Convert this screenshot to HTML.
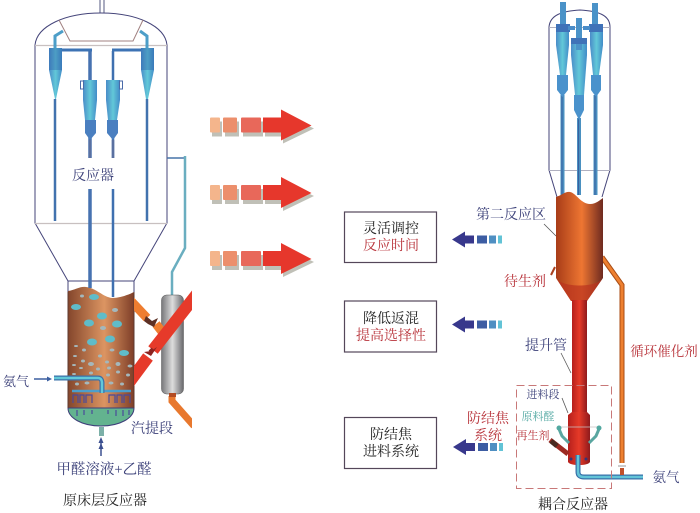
<!DOCTYPE html>
<html><head><meta charset="utf-8"><style>
html,body{margin:0;padding:0;background:#fff}
svg{display:block}
text{font-family:"Liberation Serif","Noto Serif CJK SC",serif;font-size:13px;text-anchor:middle}
.b{fill:#3a3f78}.r{fill:#b8333a}.k{fill:#222}
</style></head><body>
<svg width="700" height="513" viewBox="0 0 700 513" xmlns="http://www.w3.org/2000/svg">
<defs>
<linearGradient id="br" x1="0" x2="1" y1="0" y2="0"><stop offset="0" stop-color="#84462c"/><stop offset=".55" stop-color="#dc9562"/><stop offset="1" stop-color="#7e3e28"/></linearGradient>
<linearGradient id="or" x1="0" x2="1" y1="0" y2="0"><stop offset="0" stop-color="#a83c18"/><stop offset=".55" stop-color="#ee7632"/><stop offset="1" stop-color="#6e2a20"/></linearGradient>
<linearGradient id="rd" x1="0" x2="1" y1="0" y2="0"><stop offset="0" stop-color="#b51f1c"/><stop offset=".5" stop-color="#e63a28"/><stop offset="1" stop-color="#8e1a1c"/></linearGradient>
<linearGradient id="gy" x1="0" x2="1" y1="0" y2="0"><stop offset="0" stop-color="#77777a"/><stop offset=".5" stop-color="#ddd"/><stop offset="1" stop-color="#68686c"/></linearGradient>
<linearGradient id="cy" x1="0" x2="1" y1="0" y2="0"><stop offset="0" stop-color="#4a8cc8"/><stop offset=".5" stop-color="#62c8d8"/><stop offset="1" stop-color="#428cc8"/></linearGradient>
<clipPath id="cl"><rect x="134" y="280" width="58" height="150"/></clipPath>
<g id="ra">
<path d="M0 -7h10v15h-10zM13 -7h14v15h-14zM31 -7h20v15h-20zM53 -7h18v-8l31 15-31 15v-7h-18z" fill="#8c8c7c" opacity=".55" transform="translate(2,3)"/>
<rect x="0" y="-8" width="10" height="15" rx="1" fill="#f4b58c"/><rect x="13" y="-8" width="14" height="15" rx="1" fill="#ec8f6c"/><rect x="31" y="-8" width="20" height="15" rx="1" fill="#e8685a"/>
<path d="M53 -8h18v-8l30.500 16-30.500 15v-8h-18z" fill="#e6372c"/>
</g>
<g id="ba">
<path d="M0 0l13 -8v4h9v8h-9v4z" fill="#38388c"/>
<rect x="25" y="-4" width="10" height="8" fill="#3d5da3"/><rect x="37" y="-4" width="7" height="8" fill="#4f8fc2"/><rect x="46" y="-4" width="4" height="8" fill="#62c3d6"/>
</g>
</defs>
<rect width="700" height="513" fill="#fff"/>

<!-- Left vessel -->
<path d="M100 0v13M104 0v13" stroke="#555a80" stroke-width="1" fill="none"/>
<path d="M35 45C37 26 65 13 101 13C137 13 165 26 167 45V223L134 281H68L35 223Z" fill="none" stroke="#45457a" stroke-width="1"/>
<path d="M35 45.500H167M35 223.500H167" stroke="#c8c0c0" stroke-width="1.200"/>
<path d="M59 20L70 41H133L143 20" stroke="#a08080" fill="none"/>
<path d="M68 281V292M134 281V292" stroke="#45457a"/>

<!-- Left fluid -->
<path d="M68 291C75 290 80 286 86 287C96 288 103 297 112 298C120 298 128 295 134 292V408H68Z" fill="url(#br)"/>
<path d="M68 408H134C134 418 120 426 101 426C82 426 68 418 68 408Z" fill="#63b38f" stroke="#3e3e7a"/>
<path d="M68 292V408M134 292V408" stroke="#5d3a30"/>
<g fill="#5fbcc9">
<ellipse cx="76" cy="307" rx="5" ry="3"/><ellipse cx="94" cy="297" rx="5" ry="3"/><ellipse cx="102" cy="316" rx="5" ry="3.500"/><ellipse cx="89" cy="323" rx="5" ry="3.500"/><ellipse cx="117" cy="324" rx="5" ry="3.500"/><ellipse cx="110" cy="339" rx="5" ry="3.500"/><ellipse cx="92" cy="342" rx="5" ry="3.500"/><ellipse cx="124" cy="353" rx="5" ry="3"/>
</g>
<g fill="#a4b8bc">
<ellipse cx="82" cy="296" rx="2" ry="1.500"/><ellipse cx="115" cy="310" rx="3" ry="2"/><ellipse cx="103" cy="328" rx="3" ry="2"/>
<ellipse cx="84" cy="350" rx="2" ry="1.500"/><ellipse cx="112" cy="350" rx="2.500" ry="1.500"/><ellipse cx="76" cy="346" rx="2" ry="1"/><ellipse cx="75" cy="356" rx="2" ry="1"/><ellipse cx="100" cy="356" rx="2" ry="1.500"/><ellipse cx="83" cy="361" rx="2" ry="1.500"/><ellipse cx="91" cy="364" rx="3" ry="2"/><ellipse cx="107" cy="362" rx="2" ry="1.500"/><ellipse cx="118" cy="364" rx="2.500" ry="2"/><ellipse cx="74" cy="365" rx="2" ry="1"/><ellipse cx="81" cy="368" rx="2" ry="1"/><ellipse cx="98" cy="369" rx="2" ry="1.500"/><ellipse cx="109" cy="368" rx="2" ry="1.500"/><ellipse cx="130" cy="366" rx="2.500" ry="1.500"/><ellipse cx="74" cy="374" rx="2" ry="1"/><ellipse cx="91" cy="373" rx="2" ry="1.500"/><ellipse cx="118" cy="372" rx="2" ry="1.500"/><ellipse cx="108" cy="375" rx="2" ry="1.500"/><ellipse cx="128" cy="375" rx="2" ry="1.500"/>
<ellipse cx="77" cy="384" rx="2" ry="1.500"/><ellipse cx="87" cy="383" rx="2.500" ry="1.500"/><ellipse cx="111" cy="383" rx="2.500" ry="1.500"/><ellipse cx="122" cy="384" rx="2" ry="1.500"/>
</g>
<!-- Left cyclones -->
<g fill="none">
<path d="M90 51V158M90 189V288" stroke="#4672b0" stroke-width="3.500"/>
<path d="M113 51V158M113 189V297" stroke="#3f70b0" stroke-width="2.500"/>
<path d="M55 99V221M147 99V221" stroke="#4272ae" stroke-width="2.500"/>
<path d="M60 50H92M112 50H143" stroke="#3d73b4" stroke-width="3"/>
<path d="M55 48V36L63 31M147 48V36L140 31" stroke="#4d9ec8" stroke-width="3"/>
</g>
<path d="M49 48H62V70L56 99H55L49 70Z" fill="url(#cy)"/><path d="M141 48H154V70L148 99H146L141 70Z" fill="url(#cy)"/>
<path d="M49 48H62V70H49Z M141 48H154V70H141Z" fill="#2d5ea8" opacity=".4"/>
<path d="M83 80H97V100L95 120H85L83 100Z" fill="url(#cy)"/><path d="M106 80H120V100L117 120H108L106 100Z" fill="url(#cy)"/>
<path d="M85 120H96V133L90 140L85 133Z" fill="#4a7fc0"/><path d="M107 120H118V133L113 140L107 133Z" fill="#4a7fc0"/>
<path d="M90 140V158M113 140V158" stroke="#5a70a0" stroke-width="2.500"/>
<rect x="80.500" y="81" width="3" height="8" fill="none" stroke="#4a6aa8"/><rect x="119.500" y="81" width="3" height="8" fill="none" stroke="#4a6aa8"/>
<!-- Internals bottom -->
<path d="M72 391H131" stroke="#4c9fcb" stroke-width="2.500"/>
<g fill="none" stroke="#4a4a9a" stroke-width="1.200">
<path d="M73 403V395H78V403M80 403V395H84V403M86 403V395H92V403M109 403V395H115V403M117 403V395H122V403M124 403V395H130V403"/>
<path d="M77 410V416M84 410V415M92 410V414M108 410V414M116 410V416M123 410V416M129 410V415"/>
</g>
<path d="M54 378H98Q102 378 102 383V393" fill="none" stroke="#3b70a8" stroke-width="5"/>
<path d="M54 378H98Q102 378 102 383V393" fill="none" stroke="#62c8d8" stroke-width="2.500"/>
<path d="M34 379H50" stroke="#3c5fa0" stroke-width="1.500"/><path d="M52 379l-5 -2.500v5z" fill="#3c5fa0"/>
<path d="M101.500 427V436" stroke="#7cb0a8" stroke-width="5"/>
<path d="M101 439V456" stroke="#3c5090" stroke-width="1.500"/><path d="M101 437l-2.500 6h5zM101 443l-2.500 6h5z" fill="#3c5090"/>

<!-- Stripper -->
<path d="M167 158H185" stroke="#4673a8" stroke-width="1.500"/>
<path d="M185 156V248L172 272V295" fill="none" stroke="#6aaec0" stroke-width="2.500"/>
<rect x="161.500" y="295" width="22" height="99" rx="5" fill="url(#gy)" stroke="#555" stroke-width=".5"/>
<g clip-path="url(#cl)">
<path d="M131 301L147 318M156 324L163 333" stroke="#ee7d30" stroke-width="9" fill="none"/>
<path d="M146 316L152 321L158 318L154 327L148 324L144 321Z" fill="#5d3024"/>
<path d="M128 384L148 357M153 350L200 290" stroke="#e63a2a" stroke-width="12" fill="none"/>
<path d="M144 352L151 356L157 347L151 351Z" fill="#8d2320"/>
<path d="M150 352L153 349" stroke="#8d2320" stroke-width="4"/>
<path d="M172 396V401L194 426" stroke="#e8782e" stroke-width="7" fill="none"/>
</g>
<rect x="169" y="393" width="7" height="4" fill="#b34b22"/>

<!-- Left labels -->
<text x="93" y="180" class="b" style="font-size:14px">反应器</text>
<text x="16" y="386" class="b" style="font-size:13px">氨气</text>
<text x="152" y="433" class="b" style="font-size:14px">汽提段</text>
<text x="104" y="474" class="b" style="font-size:14.500px">甲醛溶液+乙醛</text>
<text x="105" y="505" class="k" style="font-size:14px">原床层反应器</text>

<!-- Red arrows -->
<use href="#ra" transform="translate(210,125.500)"/>
<use href="#ra" transform="translate(210,193)"/>
<use href="#ra" transform="translate(210,259)"/>

<!-- Boxes -->
<g fill="#fff" stroke="#54475a" stroke-width="1.200">
<rect x="344.500" y="212" width="92" height="50.500"/>
<rect x="344.500" y="301" width="92" height="51"/>
<rect x="344.500" y="417.500" width="92" height="51"/>
</g>
<text x="391" y="233" class="k" style="font-size:14px">灵活调控</text>
<text x="391" y="250" class="r" style="font-size:14px">反应时间</text>
<text x="391" y="323" class="k" style="font-size:14px">降低返混</text>
<text x="391" y="340" class="r" style="font-size:14px">提高选择性</text>
<text x="391" y="439" class="k" style="font-size:14px">防结焦</text>
<text x="391" y="456" class="k" style="font-size:14px">进料系统</text>

<!-- Blue arrows -->
<use href="#ba" transform="translate(452,239.500)"/>
<use href="#ba" transform="translate(452,324.500)"/>
<use href="#ba" transform="translate(453,447)"/>

<!-- Right vessel -->
<path d="M549 27C550 15 562 11 580 10C598 11 610 15 610 27V170L602 197M549 27V170L557 197" fill="none" stroke="#45457a"/>
<path d="M549 27.500H610M549 170.500H610" stroke="#b0b0c0" stroke-width="1"/>
<path d="M562.500 95V195M579 118V195M595.500 95V195" stroke="#4a90c0" stroke-width="4"/>
<path d="M562 95V195M578.500 118V195M595 95V195" stroke="#3a60a0" stroke-width="1"/>
<path d="M556 24H569V45L566 75H560L556 45Z" fill="url(#cy)"/>
<path d="M590 24H603V45L599 75H593L590 45Z" fill="url(#cy)"/>
<path d="M571 38H587V55L584 95H575L571 55Z" fill="url(#cy)"/>
<path d="M557 75H568V90L562.500 97L557 90Z" fill="#4a92cc"/>
<path d="M591 75H601V90L596 97L591 90Z" fill="#4a92cc"/>
<path d="M574 95H584V110L579 120L574 110Z" fill="#4a92cc"/>
<path d="M563 2V30M595 3V30M579 18V50" stroke="#4a92c8" stroke-width="6"/>
<path d="M556 24H570V32H556ZM589 24H603V32H589ZM571 38H587V44H571Z" fill="#3f72b8"/>
<path d="M568 28H575M583 28H590" stroke="#4a8cc8" stroke-width="4"/>
<!-- Recycle -->
<path d="M602 257L622 285V463" fill="none" stroke="#a84c14" stroke-width="5"/>
<path d="M602 257L622 285V463" fill="none" stroke="#ee8030" stroke-width="3"/>
<!-- Right reactor -->
<path d="M556 197C562 195 566 191 570 192C576 193 581 204 590 204C596 204 600 200 603 198V278L587 301H571L556 278Z" fill="url(#or)"/>
<path d="M556 278C562 288 597 288 603 278L587 301H571Z" fill="#b9321e" opacity=".7"/>
<rect x="572" y="300" width="15" height="114" fill="url(#rd)"/>
<path d="M572 412L568 415V462Q570 465 579 465T590 462V415L587 412Z" fill="url(#rd)"/>
<circle cx="571" cy="459" r="1.500" fill="#34347a"/><circle cx="586" cy="459" r="1.500" fill="#34347a"/>
<path d="M578 455V472Q578 477 584 477H643" fill="none" stroke="#3870a8" stroke-width="5"/>
<path d="M578 455V472Q578 477 584 477H643" fill="none" stroke="#62c4d8" stroke-width="2.500"/>
<!-- Nozzles -->
<g fill="none" stroke="#5aa6a0" stroke-width="3"><path d="M559 429L562 436L569 443"/><path d="M599 429L596 436L589 443"/></g>
<path d="M559 427H599" stroke="#c8c0c0" stroke-width=".7"/>
<circle cx="559" cy="428" r="2.500" fill="#52a8a0"/><circle cx="599" cy="428" r="2.500" fill="#52a8a0"/>
<path d="M550 440L568 454" stroke="#9c2a22" stroke-width="5"/><path d="M551 441L557 446" stroke="#4a2a20" stroke-width="5"/>
<rect x="620" y="468" width="4" height="7" fill="#c0502a"/>
<path d="M618 466H626" stroke="#999" stroke-width="1"/>
<path d="M555 267L551 275" stroke="#a9401e" stroke-width="2"/>
<!-- Leaders -->
<path d="M544 224L556 236" stroke="#555" stroke-width=".8"/>
<path d="M561 353L571 373" stroke="#555" stroke-width=".8"/>
<path d="M562 398L568 413" stroke="#555" stroke-width=".8"/>
<!-- Dashed -->
<rect x="516.500" y="385.500" width="95" height="103" fill="none" stroke="#c87878" stroke-width="1" stroke-dasharray="8 4"/>
<!-- Right labels -->
<text x="511" y="219" class="b" style="font-size:14px">第二反应区</text>
<text x="525" y="286" class="r" style="font-size:14px">待生剂</text>
<text x="546" y="350" class="b" style="font-size:14px">提升管</text>
<text x="664" y="356" class="r" style="font-size:13.500px">循环催化剂</text>
<text x="543" y="398" class="b" style="font-size:11px">进料段</text>
<text x="538" y="420" style="font-size:11px;fill:#4ea6a0">原料醛</text>
<text x="533" y="439" class="r" style="font-size:11px">再生剂</text>
<text x="488" y="423" class="r" style="font-size:14px">防结焦</text>
<text x="488" y="440" class="r" style="font-size:14px">系统</text>
<text x="666" y="482" class="b" style="font-size:13.500px">氨气</text>
<text x="573" y="509" class="k" style="font-size:14px">耦合反应器</text>
</svg>
</body></html>
